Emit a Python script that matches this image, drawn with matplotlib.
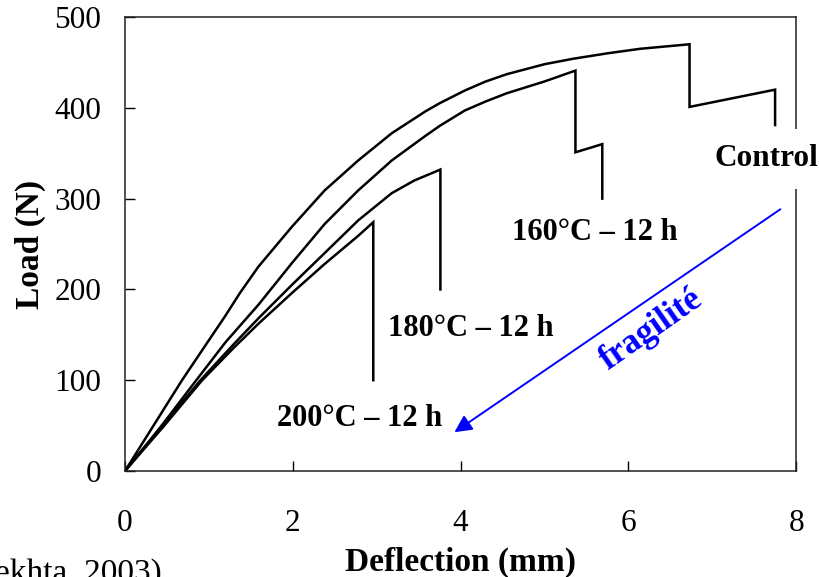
import matplotlib
matplotlib.use("Agg")
import matplotlib.pyplot as plt

# Courbes charge / flèche
control_x = [0, 0.34, 0.68, 1.0, 1.19, 1.37, 1.59, 1.99, 2.38, 2.78, 3.18, 3.58, 3.75, 4.05, 4.3, 4.55, 5.0, 5.34, 5.75, 6.14, 6.73, 6.73, 7.75, 7.75]
control_y = [0, 50, 100, 144, 170, 196, 225, 269, 309, 342, 372, 396, 405, 419, 429, 437, 448, 454, 460, 465, 470, 401, 420, 381]

t160_x = [0, 0.42, 0.85, 1.2, 1.59, 1.99, 2.38, 2.78, 3.18, 3.58, 3.75, 4.05, 4.3, 4.55, 5.0, 5.37, 5.37, 5.69, 5.69]
t160_y = [0, 48, 100, 142, 183, 229, 272, 309, 342, 369, 380, 397, 407, 416, 429, 441, 351, 360, 300]

t180_x = [0, 0.45, 0.9, 1.3, 1.6, 1.99, 2.38, 2.78, 3.18, 3.45, 3.76, 3.76]
t180_y = [0, 50, 100, 140, 169, 205, 240, 276, 306, 320, 332, 200]

t200_x = [0, 0.45, 0.92, 1.3, 1.6, 1.99, 2.38, 2.78, 2.96, 2.96]
t200_y = [0, 48, 100, 136, 163, 196, 228, 259, 274, 100]

x_ticks = [0, 2, 4, 6, 8]
y_ticks = [0, 100, 200, 300, 400, 500]

plt.rcParams['font.family'] = ['Liberation Serif', 'DejaVu Serif']

fig = plt.figure(figsize=(8.19, 5.77), dpi=100)
ax = fig.add_axes([0.1526, 0.1837, 0.8194, 0.7868])

for xs, ys in [(control_x, control_y), (t160_x, t160_y), (t180_x, t180_y), (t200_x, t200_y)]:
    ax.plot(xs, ys, color='black', linewidth=1.8, solid_joinstyle='miter')

ax.set_xlim(0, 8)
ax.set_ylim(0, 500)
ax.set_xticks(x_ticks)
ax.set_yticks(y_ticks)
ax.tick_params(axis='x', direction='in', length=7, width=1, pad=27, labelsize=22.5, top=False)
ax.tick_params(axis='y', direction='in', length=7, width=1, pad=17, labelsize=22.5, right=False)
for s in ax.spines.values():
    s.set_linewidth(1.1)
    s.set_color('#222222')

ax.set_xlabel('Deflection (mm)', fontsize=24, fontweight='bold', labelpad=7)
ax.set_ylabel('Load (N)', fontsize=24, fontweight='bold', labelpad=6)

# étiquettes des courbes
ax.text(7.65, 344, 'Control', fontsize=22.5, fontweight='bold', ha='center', va='center',
        clip_on=False, zorder=5,
        bbox=dict(facecolor='white', edgecolor='none', boxstyle='square,pad=0.5'))
ax.text(5.6, 263, '160°C – 12 h', fontsize=22, fontweight='bold', ha='center', va='center')
ax.text(4.12, 157, '180°C – 12 h', fontsize=22, fontweight='bold', ha='center', va='center')
ax.text(2.8, 58, '200°C – 12 h', fontsize=22, fontweight='bold', ha='center', va='center')

# flèche "fragilité"
ax.annotate('', xy=(3.9, 41), xytext=(7.84, 290),
            arrowprops=dict(arrowstyle='-|>', color='blue', lw=1.4, mutation_scale=26))
ax.text(6.28, 155, 'fragilité', color='blue', fontsize=25, fontweight='bold',
        rotation=35, ha='center', va='center')

fig.text(-0.006, -0.008, 'ekhta, 2003)', fontsize=24, ha='left', va='baseline')

fig.savefig('out.png', dpi=100)
